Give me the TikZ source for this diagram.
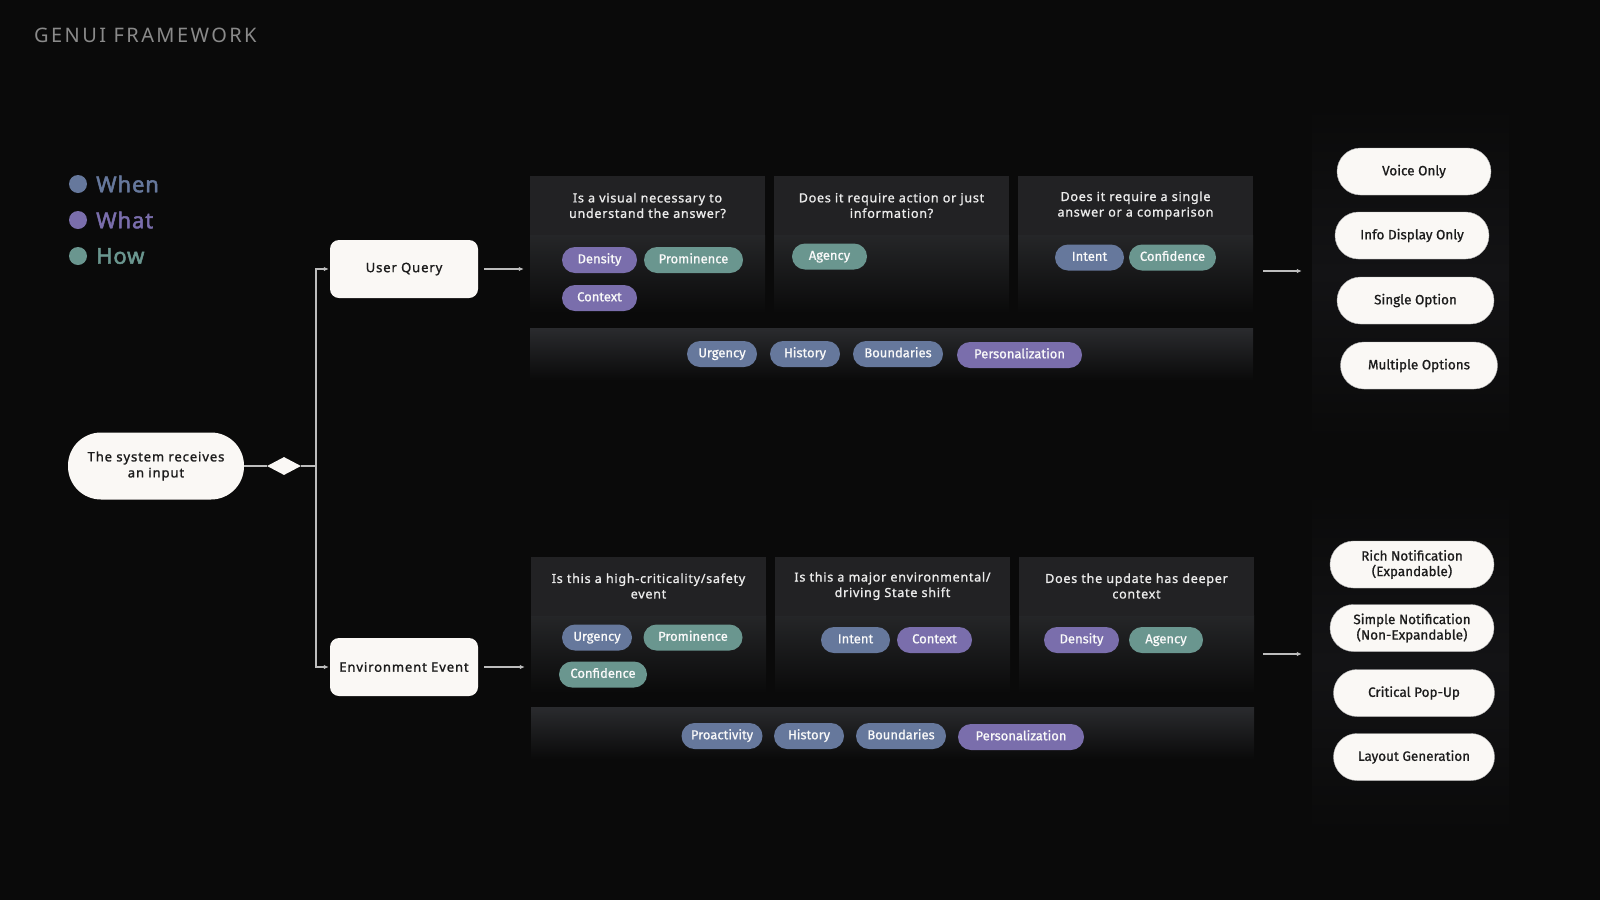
\documentclass[tikz,border=0pt]{standalone}
\usepackage{fontspec}
\setmainfont{Noto Sans}
\newfontfamily\hdfont[LetterSpace=6,FakeBold=1.2]{Noto Sans}
\newfontfamily\ndfont[LetterSpace=7,FakeBold=1.4]{Noto Sans}
\newfontfamily\legfont[LetterSpace=4,FakeBold=2.2]{Noto Sans}
\newfontfamily\ttlfont[LetterSpace=12]{Noto Sans}
\newfontfamily\pfont[FakeBold=0.8]{Fira Sans}
\newfontfamily\ofont[FakeBold=1.0]{Fira Sans}
\usetikzlibrary{shapes.geometric,arrows.meta}
\definecolor{bg}{HTML}{0A0A0A}
\definecolor{hdr}{HTML}{222224}
\definecolor{bodytop}{HTML}{252628}
\definecolor{bartop}{HTML}{2A2B2E}
\definecolor{cwhen}{HTML}{66789C}
\definecolor{cwhat}{HTML}{7A6EAC}
\definecolor{chow}{HTML}{6A968F}
\definecolor{cream}{HTML}{FAF8F5}
\definecolor{ink}{HTML}{1C1C1C}
\definecolor{lgray}{HTML}{BDBDBD}
\definecolor{ttl}{HTML}{8A8A8A}
\definecolor{htxt}{HTML}{EBEBEB}
\definecolor{pmid}{HTML}{131315}
\begin{document}
\begin{tikzpicture}[x=1pt,y=-1pt,
  hbox/.style={rectangle,fill=hdr,minimum width=235pt,minimum height=59pt,inner sep=0pt,
    text=htxt,font=\hdfont\fontsize{12.5}{15.5}\selectfont,align=center,text width=228pt},
  bbox/.style={rectangle,top color=bodytop,bottom color=bg,minimum width=235pt,minimum height=78pt,inner sep=0pt},
  bar/.style={rectangle,top color=bartop,bottom color=bg,minimum width=723pt,minimum height=52pt,inner sep=0pt},
  opanel/.style={rectangle,top color=bg,bottom color=bg,middle color=pmid,minimum width=197pt,inner sep=0pt},
  pill/.style 2 args={rectangle,rounded corners=13pt,fill=#1,minimum width=#2,minimum height=26pt,
    inner xsep=3pt,inner ysep=0pt,text height=9.2pt,text depth=2.6pt,
    text=white!95!gray,font=\pfont\fontsize{13}{14}\selectfont},
  outn/.style={rectangle,rounded corners=23.5pt,fill=cream,draw=gray!60,line width=0.4pt,minimum height=47pt,
    inner sep=0pt,text=ink,font=\ofont\fontsize{13.5}{15.5}\selectfont,align=center},
  srcn/.style={rectangle,fill=cream,minimum width=148pt,minimum height=58pt,rounded corners=9pt,inner sep=0pt,
    text=ink,font=\ndfont\fontsize{13}{16}\selectfont,align=center},
  conn/.style={draw=lgray,line width=1.1pt},
  arr/.style={draw=lgray,line width=1.1pt,-{Latex[length=5pt,width=4.5pt,fill=white]}},
  legtxt/.style={anchor=west,inner sep=0pt,font=\legfont\fontsize{22}{26}\selectfont}
]
\useasboundingbox (0,0) rectangle (1600,900);
\fill[bg] (0,0) rectangle (1600,900);

% title
\node[anchor=west,inner sep=0pt,text=ttl,font=\ttlfont\fontsize{20}{24}\selectfont] (title) at (34,35) {GENUI FRAMEWORK};

% legend
\fill[cwhen] (78,184) circle (9);
\fill[cwhat] (78,220) circle (9);
\fill[chow] (78,256) circle (9);
\node[legtxt,text=cwhen] (lwhen) at (96,184) {When};
\node[legtxt,text=cwhat] (lwhat) at (96,220) {What};
\node[legtxt,text=chow] (lhow) at (96,256) {How};

% output panels
\node[opanel,minimum height=335pt] (outTop) at (1410.5,272.5) {};
\node[opanel,minimum height=343pt] (outBot) at (1410.5,661.5) {};

% top question boxes
\node[bbox] (q1b) at (647.5,274) {};
\node[bbox] (q2b) at (891.5,274) {};
\node[bbox] (q3b) at (1135.5,274) {};
\node[hbox] (q1h) at (647.5,205.5) {Is a visual necessary to\\understand the answer?};
\node[hbox] (q2h) at (891.5,205.5) {Does it require action or just\\information?};
\node[hbox] (q3h) at (1135.5,205.5) {Does it require a single\\answer or a comparison};
\node[bar] (bar1) at (891.5,354) {};

% bottom question boxes
\node[bbox] (q4b) at (648.5,654) {};
\node[bbox] (q5b) at (892.5,654) {};
\node[bbox] (q6b) at (1136.5,654) {};
\node[hbox] (q4h) at (648.5,586) {Is this a high-criticality/safety\\event};
\node[hbox] (q5h) at (892.5,586) {Is this a major environmental/\\driving State shift};
\node[hbox] (q6h) at (1136.5,586) {Does the update has deeper\\context};
\node[bar] (bar2) at (892.5,733) {};

% top pills
\node[pill={cwhat}{75pt}] (p1) at (599.5,260) {Density};
\node[pill={chow}{99pt}] (p2) at (693.5,260) {Prominence};
\node[pill={cwhat}{75pt}] (p3) at (599.5,298) {Context};
\node[pill={chow}{75pt}] (p4) at (829.5,256.5) {Agency};
\node[pill={cwhen}{69pt}] (p5) at (1089.5,257.5) {Intent};
\node[pill={chow}{87pt}] (p6) at (1172.5,257.5) {Confidence};
\node[pill={cwhen}{70pt}] (p7) at (722,354) {Urgency};
\node[pill={cwhen}{70pt}] (p8) at (805,354) {History};
\node[pill={cwhen}{90pt}] (p9) at (898,354) {Boundaries};
\node[pill={cwhat}{125pt}] (p10) at (1019.5,355) {Personalization};

% bottom pills
\node[pill={cwhen}{70pt}] (r1) at (597,637.5) {Urgency};
\node[pill={chow}{99pt}] (r2) at (693,637.5) {Prominence};
\node[pill={chow}{88pt}] (r3) at (603,674.5) {Confidence};
\node[pill={cwhen}{69pt}] (r4) at (855.5,640) {Intent};
\node[pill={cwhat}{75pt}] (r5) at (934.5,640) {Context};
\node[pill={cwhat}{75pt}] (r6) at (1081.5,640) {Density};
\node[pill={chow}{74pt}] (r7) at (1166,640) {Agency};
\node[pill={cwhen}{81pt}] (r8) at (722,736) {Proactivity};
\node[pill={cwhen}{70pt}] (r9) at (809,736) {History};
\node[pill={cwhen}{90pt}] (r10) at (901,736) {Boundaries};
\node[pill={cwhat}{126pt}] (r11) at (1021,737) {Personalization};

% outputs
\node[outn,minimum width=154pt] (o1) at (1414,171.5) {Voice Only};
\node[outn,minimum width=154pt] (o2) at (1412,235.5) {Info Display Only};
\node[outn,minimum width=157pt] (o3) at (1415.5,300.5) {Single Option};
\node[outn,minimum width=157pt] (o4) at (1419,365.5) {Multiple Options};
\node[outn,minimum width=164pt] (o5) at (1412,564.5) {Rich Notification\\(Expandable)};
\node[outn,minimum width=164pt] (o6) at (1412,628) {Simple Notification\\(Non-Expandable)};
\node[outn,minimum width=161pt] (o7) at (1414,693) {Critical Pop-Up};
\node[outn,minimum width=161pt] (o8) at (1414,757) {Layout Generation};

% flow nodes
\node[srcn,minimum width=176pt,minimum height=67pt,rounded corners=33pt] (src) at (156,466) {The system receives\\an input};
\node[diamond,fill=cream,minimum width=34pt,minimum height=18pt,inner sep=0pt] (dia) at (284,466) {};
\node[srcn] (uq) at (404,269) {User Query};
\node[srcn] (env) at (404,667) {Environment Event};
\coordinate (junc) at (316,466);

% connectors
\draw[conn] (src.east) -- (dia.west);
\draw[conn] (dia.east) -- (junc);
\draw[arr] (junc) |- ([xshift=-1pt]uq.west);
\draw[arr] (junc) |- ([xshift=-1pt]env.west);
\draw[arr] ([xshift=6pt]uq.east) -- ([xshift=-6pt]uq.east -| q1b.west);
\draw[arr] ([xshift=6pt]env.east) -- ([xshift=-6pt]env.east -| q4b.west);
\draw[arr] ([xshift=10pt,yshift=3pt]q3b.east) -- ([xshift=-10pt,yshift=3pt]q3b.east -| outTop.west);
\draw[arr] ([xshift=9pt]q6b.east) -- ([xshift=-10pt]q6b.east -| outBot.west);
\end{tikzpicture}
\end{document}
